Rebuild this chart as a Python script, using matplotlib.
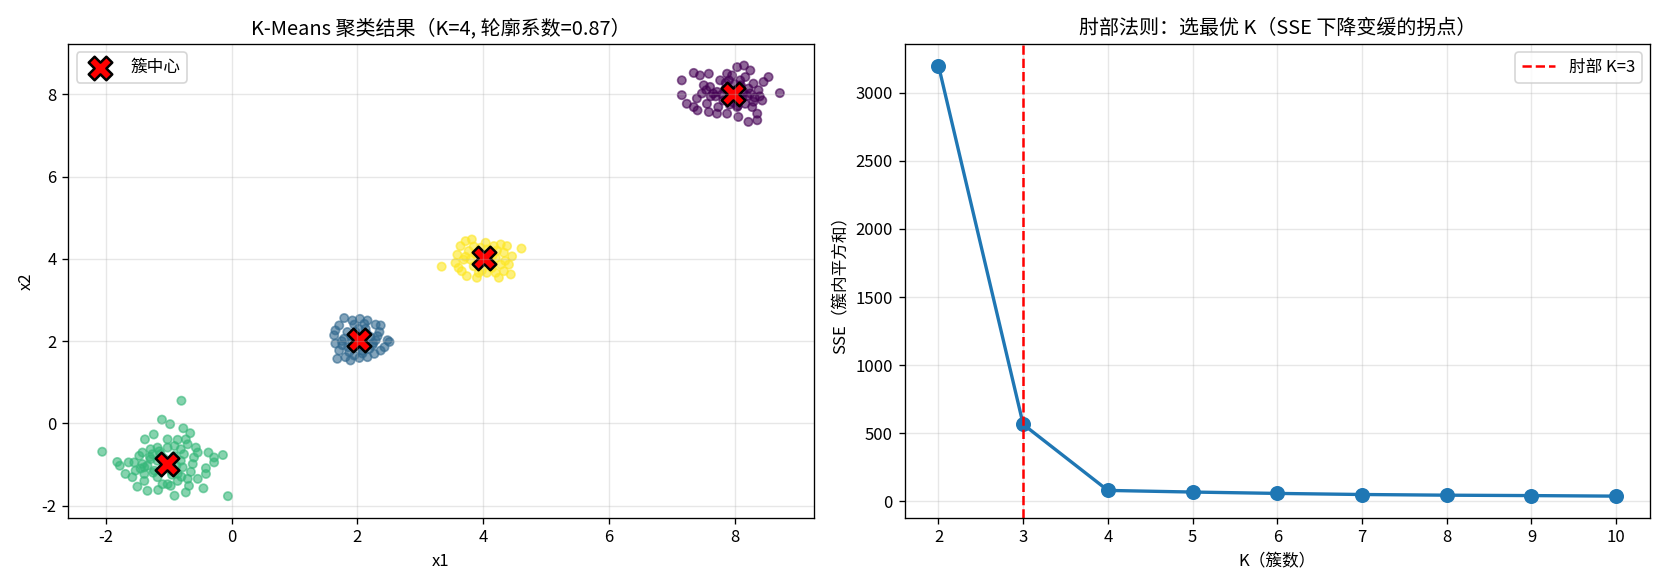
import matplotlib
matplotlib.use("Agg")
import matplotlib.pyplot as plt
import numpy as np

plt.rcParams['font.family'] = ['Noto Sans CJK SC', 'DejaVu Sans']
plt.rcParams['axes.unicode_minus'] = False

# Cluster 0 (purple, around 8,8)
c0_x = [7.16, 7.16, 7.24, 7.35, 7.45, 7.59, 7.51, 7.61, 7.40, 7.35, 7.41, 7.56, 7.59, 7.72, 7.74,
        7.88, 7.91, 8.04, 8.15, 8.25, 8.17, 8.30, 8.46, 8.54, 8.72, 8.44, 8.36, 8.36, 8.22, 8.06,
        7.88, 8.17, 8.25, 8.09, 7.77, 7.66, 7.82, 8.04, 8.28, 8.06, 7.96, 8.38, 7.72, 7.48, 8.09,
        7.95, 8.02, 8.12, 7.85, 8.20, 7.98, 8.10, 7.92, 8.32, 7.70, 8.00,
        7.62, 7.80, 8.14, 8.40, 7.90, 8.05, 8.22, 7.55, 8.30, 7.86]
c0_y = [8.34, 7.98, 7.77, 8.52, 8.46, 8.50, 8.22, 8.18, 7.90, 7.69, 7.61, 7.77, 7.57, 7.53, 7.69,
        8.50, 8.34, 8.66, 8.70, 8.58, 8.42, 8.26, 8.30, 8.42, 8.03, 7.85, 7.53, 7.37, 7.33, 7.45,
        7.53, 7.77, 8.02, 8.18, 8.34, 8.02, 7.85, 7.69, 7.69, 7.85, 8.46, 8.10, 8.06, 8.02, 8.34,
        7.95, 8.10, 7.92, 8.12, 7.96, 7.80, 8.22, 7.75, 7.92, 7.95, 8.25,
        7.95, 8.00, 8.05, 7.95, 7.88, 7.72, 8.14, 8.10, 7.82, 8.28]

# Cluster 1 (blue, around 2,2)
c1_x = [1.79, 1.65, 1.63, 1.71, 1.92, 2.04, 2.16, 2.29, 2.35, 2.48, 2.51, 2.43, 2.37, 2.27, 2.16,
        2.03, 1.89, 1.68, 1.71, 1.65, 1.76, 1.84, 2.13, 2.21, 2.24, 2.08, 1.87, 1.92, 1.97, 2.29,
        1.79, 2.11, 2.37, 2.19, 1.95, 1.81, 2.05, 1.98, 2.10, 1.90, 2.02,
        1.85, 2.15, 2.25, 1.75, 2.32, 1.95, 2.08]
c1_y = [2.56, 2.26, 2.14, 2.38, 2.50, 2.54, 2.50, 2.40, 2.22, 2.02, 1.98, 1.85, 1.77, 1.69, 1.61,
        1.59, 1.53, 1.57, 1.77, 1.94, 1.90, 2.22, 2.30, 2.10, 1.90, 1.77, 1.73, 1.98, 2.22, 2.02,
        2.06, 2.42, 2.38, 1.81, 1.65, 1.61, 2.08, 1.88, 1.95, 2.12, 2.30,
        1.85, 2.18, 1.95, 2.00, 2.12, 2.40, 1.70]

# Cluster 2 (green, around -1,-1)
c2_x = [-0.80, -1.11, -0.98, -0.77, -0.66, -1.24, -1.38, -1.02, -0.86, -0.73, -2.06, -1.82, -1.78,
        -1.64, -1.47, -1.42, -1.29, -1.18, -1.02, -0.91, -0.81, -0.70, -0.57, -0.54, -0.60, -0.62,
        -0.37, -0.28, -0.14, -0.28, -0.41, -0.41, -0.54, -0.45, -0.06, -0.70, -0.68, -0.73, -0.91,
        -0.97, -1.02, -1.17, -1.34, -1.50, -1.58, -1.69, -1.53, -1.39, -1.34, -1.29, -1.42, -1.18,
        -0.86, -0.81, -0.78, -1.26, -1.39, -0.86, -0.76, -1.10, -1.39, -1.55, -0.91, -1.13, -1.23,
        -0.97, -1.02, -1.18, -0.88,
        -1.25, -0.95, -1.08, -0.80, -1.45, -1.15, -0.65, -1.30]
c2_y = [0.55, 0.09, -0.02, -0.12, -0.24, -0.27, -0.39, -0.39, -0.40, -0.39, -0.69, -0.94, -1.03,
        -0.95, -0.79, -0.71, -0.63, -0.59, -0.59, -0.55, -0.63, -0.51, -0.59, -0.71, -0.83, -0.99,
        -0.71, -0.83, -0.77, -0.95, -1.09, -1.23, -1.35, -1.58, -1.77, -1.35, -1.52, -1.68, -1.76,
        -1.52, -1.48, -1.62, -1.64, -1.54, -1.31, -1.23, -1.15, -1.23, -1.03, -0.87, -0.99, -1.31,
        -1.23, -0.91, -1.07, -0.75, -1.40, -1.40, -0.75, -1.48, -1.07, -0.95, -0.79, -0.75, -1.15,
        -1.15, -0.99, -0.91, -1.03,
        -1.20, -1.25, -0.85, -1.30, -1.10, -0.68, -1.18, -0.82]

# Cluster 3 (yellow, around 4,4)
c3_x = [3.34, 3.64, 3.72, 3.82, 3.59, 3.56, 3.66, 3.74, 3.90, 4.06, 4.20, 4.33, 4.44, 4.41, 4.46,
        4.38, 4.28, 4.17, 4.61, 3.77, 3.69, 3.85, 4.20, 4.28, 4.14, 3.96, 4.06, 4.33, 3.93, 3.61,
        4.25, 3.80, 4.04, 4.00, 3.95, 4.10, 3.88,
        3.72, 4.15, 4.35, 3.85, 4.22, 3.98]
c3_y = [3.81, 4.31, 4.43, 4.47, 4.10, 3.90, 3.70, 3.58, 3.54, 3.66, 3.66, 3.70, 3.62, 3.86, 4.06,
        4.31, 4.35, 4.31, 4.25, 4.19, 3.98, 3.82, 4.02, 3.86, 3.78, 4.27, 4.23, 4.15, 3.66, 3.78,
        3.54, 3.98, 4.39, 4.05, 3.90, 3.95, 4.12,
        4.05, 4.08, 3.95, 4.30, 4.20, 3.72]

centers_x = [7.98, 2.02, -1.03, 4.02]
centers_y = [8.00, 2.03, -0.98, 4.01]

k_values = [2, 3, 4, 5, 6, 7, 8, 9, 10]
sse_values = [3200, 565, 80, 68, 58, 50, 45, 42, 38]
elbow_k = 3

xs = [c0_x, c1_x, c2_x, c3_x]
ys = [c0_y, c1_y, c2_y, c3_y]
X = np.concatenate([np.array(v) for v in xs])
Y = np.concatenate([np.array(v) for v in ys])
labels = np.concatenate([np.full(len(v), i) for i, v in enumerate(xs)])

fig, (ax1, ax2) = plt.subplots(1, 2, figsize=(13.9, 4.9), dpi=120)

ax1.scatter(X, Y, c=labels, cmap='viridis', vmin=0, vmax=3, s=25, alpha=0.6)
ax1.scatter(centers_x, centers_y, c='red', marker='X', s=200, edgecolors='black',
            linewidths=1.5, label='簇中心')
ax1.set_title('K-Means 聚类结果（K=4, 轮廓系数=0.87）')
ax1.set_xlabel('x1')
ax1.set_ylabel('x2')
ax1.legend(loc='upper left')
ax1.grid(True, alpha=0.3)

ax2.plot(k_values, sse_values, 'o-', linewidth=2, markersize=8)
ax2.axvline(x=elbow_k, color='red', linestyle='--', label=f'肘部 K={elbow_k}')
ax2.set_title('肘部法则：选最优 K（SSE 下降变缓的拐点）')
ax2.set_xlabel('K（簇数）')
ax2.set_ylabel('SSE（簇内平方和）')
ax2.set_xticks(k_values)
ax2.legend(loc='upper right')
ax2.grid(True, alpha=0.3)

plt.tight_layout()
plt.savefig('out.png', dpi=120)
